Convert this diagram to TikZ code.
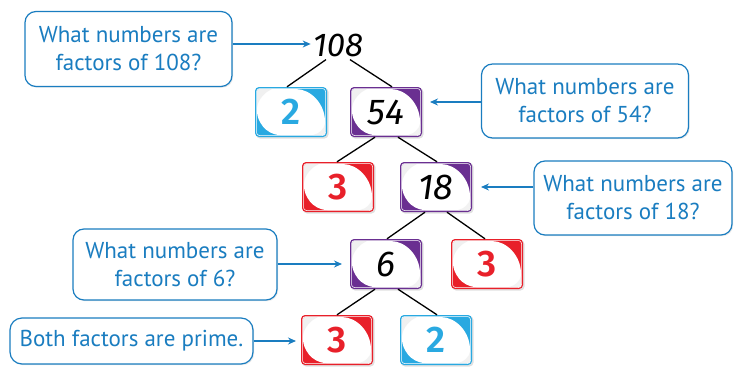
\documentclass[tikz,border=0pt]{standalone}
\usepackage{fontspec}
\setmainfont{PT Sans}
\newfontfamily\digitfont{Fira Sans Italic}
\newfontfamily\boldfont{Fira Sans SemiBold}
\usetikzlibrary{arrows.meta,shadows}
\definecolor{calloutblue}{HTML}{1A7DC0}
\definecolor{tileblue}{HTML}{29A9E1}
\definecolor{tilepurple}{HTML}{6A2F91}
\definecolor{tilered}{HTML}{E8202A}
\tikzset{
  callout/.style={draw=calloutblue, line width=1.2pt, fill=white, rounded corners=11pt,
    align=center, text=calloutblue, font=\fontsize{23}{28}\selectfont, inner sep=0pt,
    drop shadow={opacity=0.18, shadow xshift=1.2pt, shadow yshift=-1.2pt}},
  pointer/.style={calloutblue, line width=1.4pt, -{Stealth[length=8pt,width=7pt]}},
  branch/.style={black, line width=1.3pt},
  tilenode/.style={rectangle, minimum width=72pt, minimum height=50pt, inner sep=0pt},
  blacknum/.style={text=black, font=\digitfont\fontsize{36}{36}\selectfont},
  colnum/.style={font=\boldfont\fontsize{37}{37}\selectfont},
}
% tile: name, centre x, centre y, colour, content style, content
\newcommand\numtile[6]{%
  \begin{scope}[shift={(#2,#3)}]
    \fill[black, opacity=0.12, rounded corners=4pt] (-35,-24) rectangle (37.5,26.5);
    \fill[#4, rounded corners=4pt] (-36,-25) rectangle (36,25);
    \draw[white, line width=0.5pt, rounded corners=3pt] (-34.5,-23.5) rectangle (34.5,23.5);
    \fill[white, rounded corners=2.5pt]
      (-34,-23) -- (2,-23)
      .. controls (20,-23) and (34,-8) .. (34,12)
      -- (34,23) -- (-8,23)
      .. controls (-26,23) and (-34,8) .. (-34,-3)
      -- cycle;
    \fill[gray!12, rounded corners=2.5pt]
      (-34,-23) -- (-34,-3) .. controls (-33,-12) and (-26,-20) .. (-18,-23) -- cycle;
    \fill[gray!10]
      (34,23) -- (34,12) .. controls (33,17) and (28,22) .. (22,23) -- cycle;
  \end{scope}
  \node[tilenode, #5] (#1) at (#2,#3) {#6};
}
\begin{document}
\begin{tikzpicture}[x=1pt, y=-1pt]
  \useasboundingbox (0,0) rectangle (734,367);

  % number tiles
  \node[blacknum, font=\digitfont\fontsize{33}{33}\selectfont, inner sep=0pt] (n108) at (338,45) {108};
  \numtile{a2}{291}{112}{tileblue}{colnum, text=tileblue}{2}
  \numtile{a54}{386}{112}{tilepurple}{blacknum}{54}
  \numtile{b3}{338}{187}{tilered}{colnum, text=tilered}{3}
  \numtile{b18}{436}{187}{tilepurple}{blacknum}{18}
  \numtile{c6}{386}{264}{tilepurple}{blacknum}{6}
  \numtile{c3}{487}{264}{tilered}{colnum, text=tilered}{3}
  \numtile{d3}{337}{340}{tilered}{colnum, text=tilered}{3}
  \numtile{d2}{436}{340}{tileblue}{colnum, text=tileblue}{2}

  % factor branches
  \draw[branch] ([xshift=-12pt, yshift=-3pt]n108.south) -- ([xshift=-4pt]a2.north);
  \draw[branch] ([xshift=12pt, yshift=-3pt]n108.south) -- ([xshift=6pt]a54.north);
  \draw[branch] ([xshift=-11pt]a54.south) -- ([xshift=-1pt]b3.north);
  \draw[branch] ([xshift=12pt]a54.south) -- ([xshift=1pt]b18.north);
  \draw[branch] ([xshift=-11pt]b18.south) -- ([xshift=1pt]c6.north);
  \draw[branch] ([xshift=11pt]b18.south) -- ([xshift=-2pt]c3.north);
  \draw[branch] ([xshift=-11pt]c6.south) -- (d3.north);
  \draw[branch] ([xshift=12pt]c6.south) -- ([xshift=1pt]d2.north);

  % callouts
  \node[callout, minimum width=207pt, minimum height=75pt] (q108) at (128.5,49) {What numbers are\\factors of 108?};
  \node[callout, minimum width=207pt, minimum height=74pt] (q54) at (585,101) {What numbers are\\factors of 54?};
  \node[callout, minimum width=198pt, minimum height=74pt] (q18) at (633,198) {What numbers are\\factors of 18?};
  \node[callout, minimum width=204pt, minimum height=71pt] (q6) at (175,264.5) {What numbers are\\factors of 6?};
  \node[callout, minimum width=243pt, minimum height=46pt, rounded corners=12pt] (qp) at (131.5,341) {Both factors are prime.};

  % pointers
  \draw[pointer] (q108.east |- 0,44) -- ([xshift=-2pt]n108.west |- 0,44);
  \draw[pointer] (q54.west |- 0,102) -- (430,102);
  \draw[pointer] (q18.west |- 0,187) -- (481,187);
  \draw[pointer] (q6.east |- 0,264) -- (342,264);
  \draw[pointer] (qp.east) -- (296,341);
\end{tikzpicture}
\end{document}
